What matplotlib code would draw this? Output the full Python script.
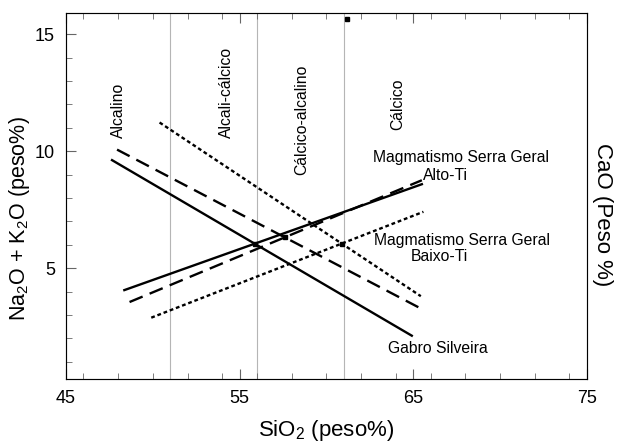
import matplotlib
matplotlib.use("Agg")
from matplotlib import pyplot as plt
from matplotlib import font_manager
from matplotlib.ticker import MultipleLocator, FixedLocator

# Na2O+K2O (subindo) e CaO (descendo) em funcao do SiO2
sio2_alk_gabro = [48.36, 65.50]
alk_gabro = [4.06, 8.59]
sio2_cao_gabro = [47.65, 64.92]
cao_gabro = [9.62, 2.11]

sio2_alk_alto = [48.66, 65.50]
alk_alto = [3.55, 8.76]
sio2_cao_alto = [47.94, 65.50]
cao_alto = [10.07, 3.25]

sio2_alk_baixo = [49.91, 65.59]
alk_baixo = [2.88, 7.41]
sio2_cao_baixo = [50.39, 65.44]
cao_baixo = [11.23, 3.80]

# pontos de cruzamento
cross_x = [55.9, 57.6, 60.9, 61.2]
cross_y = [6.03, 6.35, 6.03, 15.65]

limites = [51, 56, 61]          # limites dos campos de Peacock
campos = ["Alcalino", "Alcali-cálcico", "Cálcico-alcalino", "Cálcico"]
campos_x = [48.0, 54.27, 58.59, 64.13]
campos_y = [10.55, 10.55, 8.97, 10.9]

xticks = [45, 55, 65, 75]

# fonte estreita se existir
nomes = {f.name for f in font_manager.fontManager.ttflist}
if 'Liberation Sans Narrow' in nomes:
    narrow = dict(family='Liberation Sans Narrow')
    fs_lab = 12
else:
    narrow = dict(family='Liberation Sans')
    fs_lab = 11.3

plt.rcParams['font.family'] = ['Liberation Sans', 'DejaVu Sans']
plt.rcParams['mathtext.fontset'] = 'custom'
plt.rcParams['mathtext.rm'] = 'Liberation Sans'
plt.rcParams['mathtext.it'] = 'Liberation Sans'
plt.rcParams['mathtext.default'] = 'regular'

fig = plt.figure(figsize=(6.17, 4.44), dpi=100)
ax = fig.add_axes([0.107, 0.146, 0.844, 0.824])

for x in limites:
    ax.axvline(x, color='#b5b5b5', linewidth=0.8, zorder=1)

lw = 1.7
ax.plot(sio2_alk_gabro, alk_gabro, 'k-', linewidth=lw)
ax.plot(sio2_cao_gabro, cao_gabro, 'k-', linewidth=lw)
ax.plot(sio2_alk_alto, alk_alto, 'k', linewidth=lw, linestyle=(0, (6, 3.2)))
ax.plot(sio2_cao_alto, cao_alto, 'k', linewidth=lw, linestyle=(0, (6, 3.2)))
ax.plot(sio2_alk_baixo, alk_baixo, 'k', linewidth=lw, linestyle=(0, (1.6, 1.2)))
ax.plot(sio2_cao_baixo, cao_baixo, 'k', linewidth=lw, linestyle=(0, (1.6, 1.2)))
ax.plot(cross_x, cross_y, 's', color='k', markersize=3.5, linestyle='none')

for nome, x, y in zip(campos, campos_x, campos_y):
    ax.text(x, y, nome, rotation=90, ha='center', va='bottom',
            fontsize=fs_lab, **narrow)

ax.text(67.76, 9.74, "Magmatismo Serra Geral", ha='center', va='center', fontsize=fs_lab, **narrow)
ax.text(66.84, 8.95, "Alto-Ti", ha='center', va='center', fontsize=fs_lab, **narrow)
ax.text(67.8, 6.2, "Magmatismo Serra Geral", ha='center', va='center', fontsize=fs_lab, **narrow)
ax.text(66.5, 5.51, "Baixo-Ti", ha='center', va='center', fontsize=fs_lab, **narrow)
ax.text(66.42, 1.57, "Gabro Silveira", ha='center', va='center', fontsize=fs_lab, **narrow)

ax.set_xlim(45, 75)
ax.set_ylim(0.25, 15.9)
ax.xaxis.set_major_locator(FixedLocator(xticks))
ax.xaxis.set_minor_locator(MultipleLocator(2))
ax.yaxis.set_major_locator(MultipleLocator(5))
ax.yaxis.set_minor_locator(MultipleLocator(1))
ax.tick_params(which='both', direction='in', top=True, right=True, colors='#666666',
               labelcolor='k', labelsize=13)
ax.tick_params(which='major', length=7, pad=8)
ax.tick_params(which='minor', length=4)
for s in ax.spines.values():
    s.set_color('#777777')

ax.set_xlabel("SiO$_2$ (peso%)", fontsize=16, labelpad=8)
ax.set_ylabel("Na$_2$O + K$_2$O (peso%)", fontsize=15.5, va='center')
ax.yaxis.set_label_coords(-0.09, 0.44)
ax2 = ax.twinx()
ax2.set_ylim(ax.get_ylim())
ax2.set_yticks([])
ax2.set_ylabel("CaO (Peso %)", fontsize=16, rotation=270, va='center')
ax2.yaxis.set_label_coords(1.03, 0.45)

plt.savefig("out.png", dpi=100)
